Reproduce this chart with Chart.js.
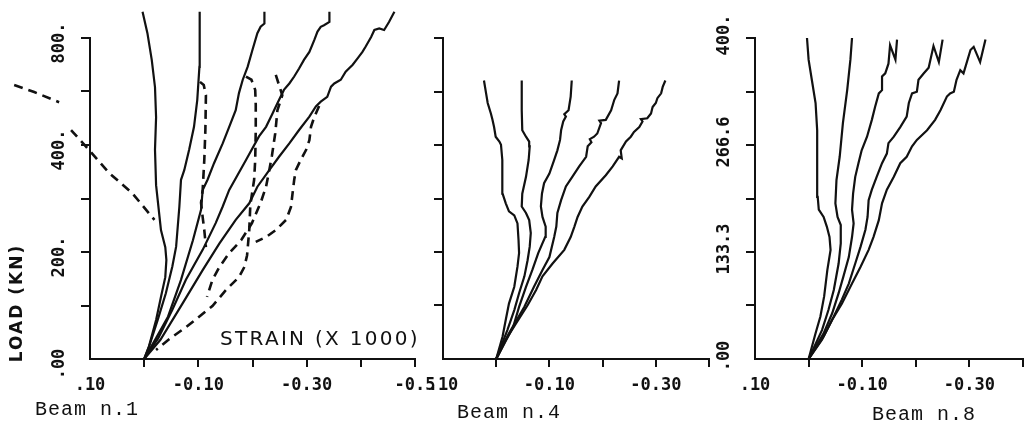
<!DOCTYPE html>
<html>
<head>
<meta charset="utf-8">
<script src="https://cdn.jsdelivr.net/npm/chart.js@4.4.1/dist/chart.umd.min.js"></script>
<style>
  html, body { margin: 0; padding: 0; background: #fff; }
  body { width: 1031px; height: 425px; position: relative; overflow: hidden; }
  canvas { position: absolute; top: 0; }
</style>
</head>
<body>
<canvas id="beam1" width="440" height="425" style="left:0px"></canvas>
<canvas id="beam4" width="320" height="425" style="left:420px"></canvas>
<canvas id="beam8" width="326" height="425" style="left:705px"></canvas>
<script>
  // strain (x1000) vs load (kN)

  // Beam n.1 - solid gauges
  const b1Solid1 = [[0,0],[-0.009,24],[-0.022,73],[-0.031,116],[-0.039,153],[-0.041,185],[-0.039,209],[-0.031,241],[-0.025,297],[-0.022,325],[-0.020,391],[-0.022,452],[-0.020,508],[-0.014,559],[-0.006,609],[0.003,649]];
  const b1Solid2 = [[0,0],[-0.009,23],[-0.025,73],[-0.040,123],[-0.052,173],[-0.059,210],[-0.065,285],[-0.068,335],[-0.074,353],[-0.083,391],[-0.092,434],[-0.098,484],[-0.102,546],[-0.103,609],[-0.102,649]];
  const b1Solid3 = [[0,0],[-0.022,39],[-0.044,79],[-0.068,148],[-0.090,222],[-0.105,279],[-0.108,316],[-0.117,335],[-0.129,366],[-0.145,403],[-0.157,434],[-0.169,465],[-0.175,497],[-0.182,522],[-0.191,546],[-0.200,578],[-0.209,609],[-0.215,621],[-0.222,627],[-0.222,649]];
  const b1Solid4 = [[0,0],[-0.026,39],[-0.052,92],[-0.077,148],[-0.108,204],[-0.132,254],[-0.145,285],[-0.157,316],[-0.188,372],[-0.212,416],[-0.225,434],[-0.237,459],[-0.246,478],[-0.258,503],[-0.268,515],[-0.277,528],[-0.286,543],[-0.295,559],[-0.305,574],[-0.314,596],[-0.320,612],[-0.326,621],[-0.332,624],[-0.342,630],[-0.342,649]];
  const b1Solid5 = [[0,0],[-0.030,36],[-0.071,104],[-0.108,166],[-0.139,216],[-0.169,260],[-0.194,291],[-0.209,322],[-0.231,353],[-0.249,378],[-0.268,403],[-0.286,428],[-0.305,453],[-0.317,472],[-0.326,481],[-0.338,490],[-0.345,509],[-0.351,515],[-0.363,522],[-0.372,537],[-0.385,550],[-0.394,562],[-0.403,574],[-0.409,584],[-0.419,602],[-0.425,615],[-0.434,618],[-0.443,615],[-0.452,630],[-0.462,649]];

  // Beam n.1 - dashed gauges
  const b1Dash0a = [[0.240,512],[0.203,499],[0.157,480]];
  const b1Dash0b = [[0.135,428],[0.102,391],[0.065,348],[0.022,310],[-0.019,260]];
  const b1Dash1 = [[-0.103,518],[-0.110,512],[-0.114,493],[-0.113,428],[-0.111,372],[-0.108,316],[-0.105,292],[-0.108,265],[-0.111,241],[-0.114,209]];
  const b1Dash2 = [[-0.188,528],[-0.198,522],[-0.205,503],[-0.206,475],[-0.206,428],[-0.205,372],[-0.203,335],[-0.196,288],[-0.194,241],[-0.190,194],[-0.185,172],[-0.175,153],[-0.151,129],[-0.126,99],[-0.078,60],[-0.046,37],[-0.022,17]];
  const b1Dash3 = [[-0.243,531],[-0.255,493],[-0.246,465],[-0.242,422],[-0.236,381],[-0.231,353],[-0.225,322],[-0.215,292],[-0.199,254],[-0.179,222],[-0.157,198],[-0.139,172],[-0.126,148],[-0.116,116]];
  const b1Dash4 = [[-0.323,473],[-0.314,452],[-0.308,434],[-0.305,409],[-0.299,391],[-0.289,372],[-0.280,353],[-0.277,335],[-0.274,310],[-0.271,284],[-0.262,260],[-0.243,241],[-0.225,228],[-0.206,219]];

  // Beam n.4
  const b4Solid1 = [[0,0],[-0.012,28],[-0.018,49],[-0.024,69],[-0.034,90],[-0.040,115],[-0.043,132],[-0.042,148],[-0.040,169],[-0.034,179],[-0.024,184],[-0.018,194],[-0.012,206],[-0.012,227],[-0.011,248],[-0.009,267],[-0.006,271],[0.001,277],[0.004,289],[0.007,298],[0.010,306],[0.016,319],[0.019,331],[0.023,347]];
  const b4Solid2 = [[0,0],[-0.021,36],[-0.034,61],[-0.043,82],[-0.053,103],[-0.059,123],[-0.063,140],[-0.065,157],[-0.062,173],[-0.056,182],[-0.048,190],[-0.049,206],[-0.056,227],[-0.061,248],[-0.063,265],[-0.062,271],[-0.056,277],[-0.049,285],[-0.048,310],[-0.048,347]];
  const b4Solid3 = [[0,0],[-0.032,40],[-0.043,65],[-0.056,90],[-0.068,111],[-0.079,132],[-0.092,152],[-0.093,165],[-0.087,177],[-0.084,190],[-0.086,206],[-0.090,219],[-0.100,231],[-0.109,248],[-0.115,260],[-0.120,273],[-0.122,285],[-0.126,296],[-0.131,302],[-0.128,305],[-0.136,310],[-0.140,327],[-0.142,347]];
  const b4Solid4 = [[0,0],[-0.024,32],[-0.053,65],[-0.071,90],[-0.087,111],[-0.100,127],[-0.109,152],[-0.113,165],[-0.115,182],[-0.122,198],[-0.131,215],[-0.143,227],[-0.156,240],[-0.169,252],[-0.172,265],[-0.179,270],[-0.176,274],[-0.184,277],[-0.190,281],[-0.197,294],[-0.194,297],[-0.206,298],[-0.216,310],[-0.222,323],[-0.228,331],[-0.231,347]];
  const b4Solid5 = [[0,0],[-0.018,24],[-0.037,44],[-0.059,67],[-0.075,86],[-0.087,103],[-0.106,119],[-0.128,136],[-0.140,152],[-0.147,165],[-0.153,177],[-0.162,190],[-0.175,202],[-0.187,215],[-0.206,229],[-0.219,240],[-0.231,252],[-0.236,250],[-0.234,260],[-0.244,271],[-0.253,277],[-0.259,283],[-0.269,289],[-0.275,296],[-0.272,299],[-0.284,300],[-0.291,306],[-0.294,314],[-0.300,319],[-0.303,325],[-0.310,331],[-0.313,339],[-0.318,347]];

  // Beam n.8
  const b8Solid1 = [[0,0],[-0.013,32],[-0.022,53],[-0.029,78],[-0.035,111],[-0.041,136],[-0.039,152],[-0.034,165],[-0.028,177],[-0.019,186],[-0.017,202],[-0.016,244],[-0.016,285],[-0.013,319],[-0.006,348],[0,373],[0.003,400]];
  const b8Solid2 = [[0,0],[-0.025,36],[-0.037,61],[-0.047,86],[-0.056,119],[-0.060,144],[-0.060,167],[-0.054,177],[-0.050,194],[-0.052,223],[-0.058,252],[-0.064,294],[-0.072,335],[-0.078,373],[-0.081,400]];
  const b8Solid3 = [[0,0],[-0.028,32],[-0.044,57],[-0.056,82],[-0.065,103],[-0.075,127],[-0.081,152],[-0.084,169],[-0.081,186],[-0.083,206],[-0.087,227],[-0.093,244],[-0.099,260],[-0.109,277],[-0.118,298],[-0.124,314],[-0.131,331],[-0.137,335],[-0.137,352],[-0.143,356],[-0.149,368],[-0.152,391],[-0.162,373],[-0.165,398]];
  const b8Solid4 = [[0,0],[-0.028,28],[-0.047,53],[-0.062,74],[-0.075,94],[-0.087,119],[-0.097,140],[-0.106,161],[-0.110,177],[-0.112,198],[-0.118,211],[-0.127,227],[-0.137,244],[-0.146,256],[-0.149,269],[-0.159,277],[-0.171,289],[-0.183,302],[-0.187,319],[-0.193,331],[-0.202,333],[-0.205,348],[-0.215,356],[-0.224,363],[-0.233,390],[-0.243,370],[-0.250,398]];
  const b8Solid5 = [[0,0],[-0.025,24],[-0.044,49],[-0.062,69],[-0.081,94],[-0.097,115],[-0.112,136],[-0.121,152],[-0.131,173],[-0.137,194],[-0.146,211],[-0.159,227],[-0.171,244],[-0.183,252],[-0.193,265],[-0.202,273],[-0.221,285],[-0.236,298],[-0.246,310],[-0.258,327],[-0.264,331],[-0.271,333],[-0.276,348],[-0.283,360],[-0.289,356],[-0.302,385],[-0.308,389],[-0.320,370],[-0.330,398]];

  // ticks and their printed labels
  const b1XTicks = [-0.5, -0.4, -0.3, -0.2, -0.1, 0, 0.1];
  const b1XLabels = ['-0.5', '', '-0.30', '', '-0.10', '', '.10'];
  const b1YTicks = [0, 100, 200, 300, 400, 500, 600];
  const b1YLabels = ['.00', '', '200.', '', '400.', '', '800.'];

  const b48XTicks = [-0.4, -0.3, -0.2, -0.1, 0, 0.1];
  const b48XLabels = ['', '-0.30', '', '-0.10', '', '.10'];
  const b48YTicks = [0, 66.67, 133.33, 200, 266.67, 333.33, 400];
  const b8YLabels = ['.00', '', '133.3', '', '266.6', '', '400.'];

  const INK = '#111';
  const NONE = 'rgba(0,0,0,0)';
  const TICK_FONT = { family: 'DejaVu Sans Mono', size: 17, weight: 'bold' };

  function textPlugin(cfg) {
    return {
      id: 'paperText',
      afterDraw(chart) {
        const ctx = chart.ctx;
        const ys = chart.scales.y;
        ctx.save();
        ctx.fillStyle = INK;
        if (cfg.yLabels) {
          ctx.font = 'bold 17px "DejaVu Sans Mono"';
          ctx.textAlign = 'center';
          ctx.textBaseline = 'middle';
          cfg.yTicks.forEach((v, i) => {
            const t = cfg.yLabels[i];
            if (!t) return;
            ctx.save();
            ctx.translate(cfg.labelX, ys.getPixelForValue(v) + cfg.labelShift);
            ctx.rotate(-Math.PI / 2);
            ctx.fillText(t, 0, 0);
            ctx.restore();
          });
        }
        (cfg.notes || []).forEach(n => {
          ctx.save();
          ctx.font = n.font;
          ctx.letterSpacing = n.spacing || '0px';
          ctx.textAlign = n.align || 'left';
          ctx.textBaseline = n.baseline || 'alphabetic';
          ctx.translate(n.x, n.y);
          if (n.rotate) ctx.rotate(n.rotate);
          ctx.fillText(n.text, 0, 0);
          ctx.restore();
        });
        ctx.restore();
      }
    };
  }

  function makePanel(p) {
    const el = document.getElementById(p.id);
    const W = el.width, H = el.height;
    const sets = [];
    p.solid.forEach(d => sets.push({ data: d, showLine: true, borderColor: INK, borderWidth: 2.2, pointRadius: 0, tension: 0, clip: false }));
    (p.dashed || []).forEach(d => sets.push({ data: d, showLine: true, borderColor: INK, borderWidth: 2.6, borderDash: [9, 6], pointRadius: 0, tension: 0, clip: false }));

    return new Chart(el, {
      type: 'scatter',
      data: { datasets: sets },
      options: {
        responsive: false,
        animation: false,
        devicePixelRatio: 1,
        events: [],
        layout: { padding: { left: 0, top: p.area.top, right: W - p.area.right, bottom: 0 } },
        plugins: { legend: { display: false }, tooltip: { enabled: false } },
        scales: {
          x: {
            type: 'linear', min: p.xTicks[0], max: p.xTicks[p.xTicks.length - 1], reverse: true,
            afterBuildTicks: s => { s.ticks = p.xTicks.map(v => ({ value: v })); },
            afterFit: s => { s.height = H - p.area.bottom; s.paddingLeft = 0; s.paddingRight = 0; },
            ticks: { autoSkip: false, maxRotation: 0, minRotation: 0, padding: 8, color: INK, font: TICK_FONT,
                     callback: (v, i) => p.xLabels[i] },
            grid: { drawOnChartArea: false, tickLength: 8, lineWidth: 2,
                    tickColor: c => (c.tick && c.tick.value > 0.05) ? NONE : INK },
            border: { color: INK, width: 2 }
          },
          y: {
            type: 'linear', min: 0, max: p.yTicks[p.yTicks.length - 1],
            afterBuildTicks: s => { s.ticks = p.yTicks.map(v => ({ value: v })); },
            afterFit: s => { s.width = p.area.left; s.paddingTop = 0; s.paddingBottom = 0; },
            ticks: { display: false },
            grid: { drawOnChartArea: false, tickLength: 9, lineWidth: 2,
                    tickColor: c => (c.tick && c.tick.value === 0) ? NONE : INK },
            border: { color: INK, width: 2 }
          }
        }
      },
      plugins: [textPlugin(p.text)]
    });
  }

  makePanel({
    id: 'beam1',
    area: { left: 90, right: 415, top: 38, bottom: 359 },
    solid: [b1Solid1, b1Solid2, b1Solid3, b1Solid4, b1Solid5],
    dashed: [b1Dash0a, b1Dash0b, b1Dash1, b1Dash2, b1Dash3, b1Dash4],
    xTicks: b1XTicks, xLabels: b1XLabels, yTicks: b1YTicks,
    text: {
      yTicks: b1YTicks, yLabels: b1YLabels, labelX: 60, labelShift: 5,
      notes: [
        { text: 'LOAD (KN)', x: 18, y: 303, rotate: -Math.PI / 2, align: 'center', baseline: 'middle', font: 'bold 17px "DejaVu Sans"', spacing: '2px' },
        { text: 'STRAIN (X 1000)', x: 220, y: 345, font: '20px "DejaVu Sans"', spacing: '2.3px' },
        { text: 'Beam n.1', x: 35, y: 415, font: '20px "Liberation Mono"', spacing: '1px' }
      ]
    }
  });

  makePanel({
    id: 'beam4',
    area: { left: 23, right: 289, top: 38, bottom: 359 },
    solid: [b4Solid1, b4Solid2, b4Solid3, b4Solid4, b4Solid5],
    xTicks: b48XTicks, xLabels: b48XLabels, yTicks: b48YTicks,
    text: {
      notes: [
        { text: 'Beam n.4', x: 37, y: 418, font: '20px "Liberation Mono"', spacing: '1px' }
      ]
    }
  });

  makePanel({
    id: 'beam8',
    area: { left: 50, right: 318, top: 38, bottom: 359 },
    solid: [b8Solid1, b8Solid2, b8Solid3, b8Solid4, b8Solid5],
    xTicks: b48XTicks, xLabels: b48XLabels, yTicks: b48YTicks,
    text: {
      yTicks: b48YTicks, yLabels: b8YLabels, labelX: 20, labelShift: -3,
      notes: [
        { text: 'Beam n.8', x: 167, y: 420, font: '20px "Liberation Mono"', spacing: '1px' }
      ]
    }
  });
</script>
</body>
</html>
